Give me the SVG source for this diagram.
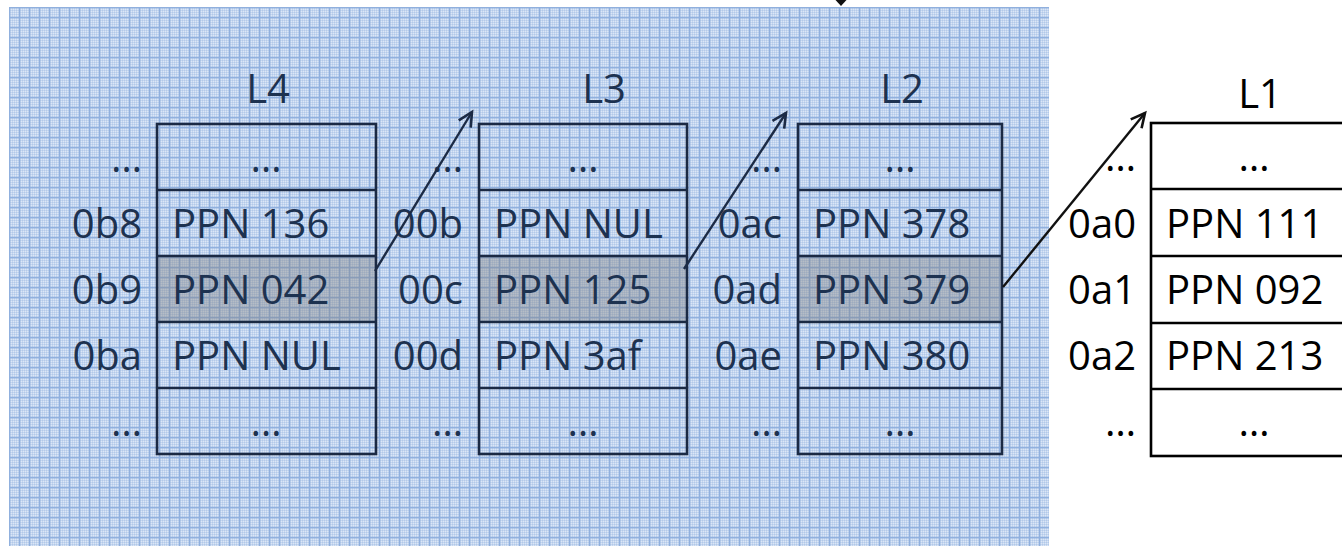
<svg xmlns="http://www.w3.org/2000/svg" width="1342" height="546" viewBox="0 0 1342 546">
<defs>
<pattern id="dither" width="2" height="2" patternUnits="userSpaceOnUse">
<rect width="2" height="2" fill="#c4d6ef"/>
<rect x="0" y="0" width="1" height="1" fill="#dbe6f6"/>
<rect x="1" y="1" width="1" height="1" fill="#b3c9e9"/>
</pattern>
<pattern id="grid" width="10" height="10" patternUnits="userSpaceOnUse" x="9" y="7">
<rect width="10" height="10" fill="url(#dither)"/>
<rect x="0" y="0" width="1.2" height="10" fill="#90b0de"/>
<rect x="0" y="0" width="10" height="1.2" fill="#90b0de"/>
</pattern>
<marker id="openB" markerUnits="userSpaceOnUse" markerWidth="20" markerHeight="20" refX="15" refY="8" orient="auto" viewBox="0 0 20 16">
<path d="M1,1 L15,8 L1,15" fill="none" stroke="#1c2b45" stroke-width="2.6"/>
</marker>
<marker id="openK" markerUnits="userSpaceOnUse" markerWidth="20" markerHeight="20" refX="15" refY="8" orient="auto" viewBox="0 0 20 16">
<path d="M1,1 L15,8 L1,15" fill="none" stroke="#111" stroke-width="2.6"/>
</marker>
</defs>
<style>
text{font-family:"Open Sans","Noto Sans","Liberation Sans",sans-serif;font-size:40px}
.b text{fill:#1d3250}
.k text{fill:#000}
.hdr{text-anchor:middle}
.idx{text-anchor:end}
.mid{text-anchor:middle}
.b .cell{fill:none;stroke:#1b2a44;stroke-width:2.6}
.k .cell{fill:#fff;stroke:#000;stroke-width:2.6}
.hl{fill:#808080;fill-opacity:0.4}
</style>
<rect id="background" x="9" y="7" width="1040" height="539" fill="url(#grid)"/>

<g id="L4" class="b">
<text class="hdr" x="268" y="103">L4</text>
<rect class="hl" x="157" y="256" width="219" height="66"/>
<rect class="cell" x="157" y="124" width="219" height="330"/>
<path class="cell" d="M157,190H376M157,256H376M157,322H376M157,388H376"/>
<text class="idx" x="142" y="172">…</text>
<text class="idx" x="142" y="238">0b8</text>
<text class="idx" x="142" y="304">0b9</text>
<text class="idx" x="142" y="370">0ba</text>
<text class="idx" x="142" y="436">…</text>
<text class="mid" x="266" y="172">…</text>
<text x="172" y="238">PPN 136</text>
<text x="172" y="304">PPN 042</text>
<text x="172" y="370">PPN NUL</text>
<text class="mid" x="266" y="436">…</text>
</g>

<g id="L3" class="b">
<text class="hdr" x="604" y="103">L3</text>
<rect class="hl" x="479" y="256" width="208" height="66"/>
<rect class="cell" x="479" y="124" width="208" height="330"/>
<path class="cell" d="M479,190H687M479,256H687M479,322H687M479,388H687"/>
<text class="idx" x="463" y="172">…</text>
<text class="idx" x="463" y="238">00b</text>
<text class="idx" x="463" y="304">00c</text>
<text class="idx" x="463" y="370">00d</text>
<text class="idx" x="463" y="436">…</text>
<text class="mid" x="583" y="172">…</text>
<text x="494" y="238">PPN NUL</text>
<text x="494" y="304">PPN 125</text>
<text x="494" y="370">PPN 3af</text>
<text class="mid" x="583" y="436">…</text>
</g>

<g id="L2" class="b">
<text class="hdr" x="902" y="103">L2</text>
<rect class="hl" x="798" y="256" width="204" height="66"/>
<rect class="cell" x="798" y="124" width="204" height="330"/>
<path class="cell" d="M798,190H1002M798,256H1002M798,322H1002M798,388H1002"/>
<text class="idx" x="782" y="172">…</text>
<text class="idx" x="782" y="238">0ac</text>
<text class="idx" x="782" y="304">0ad</text>
<text class="idx" x="782" y="370">0ae</text>
<text class="idx" x="782" y="436">…</text>
<text class="mid" x="900" y="172">…</text>
<text x="813" y="238">PPN 378</text>
<text x="813" y="304">PPN 379</text>
<text x="813" y="370">PPN 380</text>
<text class="mid" x="900" y="436">…</text>
</g>

<g id="L1" class="k">
<text class="hdr" x="1260" y="108">L1</text>
<rect class="cell" x="1151" y="123" width="220" height="333"/>
<path class="cell" d="M1151,189H1371M1151,256H1371M1151,323H1371M1151,389H1371"/>
<text class="idx" x="1136" y="171">…</text>
<text class="idx" x="1136" y="238">0a0</text>
<text class="idx" x="1136" y="304">0a1</text>
<text class="idx" x="1136" y="370">0a2</text>
<text class="idx" x="1136" y="436">…</text>
<text class="mid" x="1254" y="171">…</text>
<text x="1166" y="238">PPN 111</text>
<text x="1166" y="304">PPN 092</text>
<text x="1166" y="370">PPN 213</text>
<text class="mid" x="1254" y="436">…</text>
</g>

<g id="connectors" fill="none" stroke-width="2.4">
<polygon points="835.5,0 846.5,0 841,6" fill="#111" stroke="none"/>
<line x1="375" y1="271" x2="472" y2="112" stroke="#1c2b45" marker-end="url(#openB)"/>
<line x1="684" y1="269" x2="786" y2="113" stroke="#1c2b45" marker-end="url(#openB)"/>
<line x1="1003" y1="287" x2="1145" y2="113" stroke="#111" marker-end="url(#openK)"/>
</g>
</svg>
